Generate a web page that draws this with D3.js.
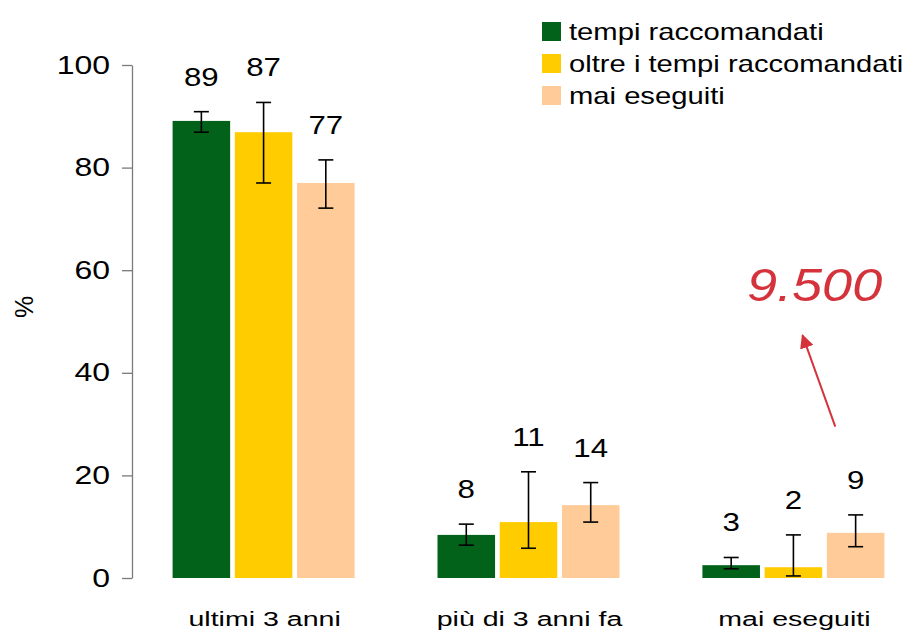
<!DOCTYPE html>
<html>
<head>
<meta charset="utf-8">
<script src="https://cdn.jsdelivr.net/npm/d3@7"></script>
<style>
  body { margin: 0; background: #fff; }
  text { font-family: "Liberation Sans", Arial, sans-serif; }
</style>
</head>
<body>
<div id="chart"></div>
<script>
// categories and series
const groups = ["ultimi 3 anni", "più di 3 anni fa", "mai eseguiti"];
const seriesNames = ["tempi raccomandati", "oltre i tempi raccomandati", "mai eseguiti"];
const seriesColors = ["#03621a", "#ffcc00", "#ffcc99"];

// percentages per group (one array per series)
const tempiRaccomandati = [89.1, 8.4, 2.5];
const oltreTempi = [86.9, 10.9, 2.1];
const maiEseguiti = [77.0, 14.2, 8.8];

// confidence intervals [low, high]
const ciTempi = [[86.9, 90.9], [6.4, 10.5], [1.8, 4.0]];
const ciOltre = [[77.0, 92.7], [5.8, 20.7], [0.4, 8.4]];
const ciMai = [[72.1, 81.5], [10.9, 18.6], [6.1, 12.3]];

const yTicks = [0, 20, 40, 60, 80, 100];
const annotationText = "9.500";

document.addEventListener('DOMContentLoaded', function() {
  const width = 906, height = 638;

  const svg = d3.select("#chart").append("svg")
      .attr("width", width)
      .attr("height", height);

  const allValues = [tempiRaccomandati, oltreTempi, maiEseguiti];
  const allCI = [ciTempi, ciOltre, ciMai];

  const data = groups.map((g, gi) => ({
    group: g,
    bars: seriesNames.map((s, si) => ({
      key: s,
      color: seriesColors[si],
      value: allValues[si][gi],
      lo: allCI[si][gi][0],
      hi: allCI[si][gi][1]
    }))
  }));

  // scales
  const y = d3.scaleLinear().domain([0, 100]).range([578, 65]);
  const x0 = d3.scaleBand().domain(groups).range([131, 926])
      .paddingInner(0.313).paddingOuter(0.157);
  const x1 = d3.scaleBand().domain(seriesNames).range([0, x0.bandwidth()])
      .paddingInner(0.075);

  // y axis
  const yAxis = svg.append("g")
      .attr("transform", "translate(132,0)")
      .call(d3.axisLeft(y).tickValues(yTicks).tickSize(10).tickSizeOuter(0));
  yAxis.select(".domain").attr("stroke", "#7a7a7a").attr("stroke-width", 1.3);
  yAxis.selectAll(".tick line").attr("stroke", "#7a7a7a").attr("stroke-width", 1.3);
  yAxis.selectAll(".tick text")
      .attr("x", null)
      .attr("transform", "translate(-22,0) scale(1.28,1)")
      .attr("font-size", 25)
      .attr("font-family", "Liberation Sans, Arial, sans-serif")
      .attr("fill", "#000");

  // y title
  svg.append("text")
      .attr("transform", "translate(33,307) rotate(-90)")
      .attr("text-anchor", "middle")
      .attr("font-size", 25)
      .text("%");

  // bars
  const groupG = svg.selectAll(".grp")
    .data(data)
    .enter().append("g")
      .attr("class", "grp")
      .attr("transform", d => `translate(${x0(d.group)},0)`);

  const barG = groupG.selectAll(".bar")
    .data(d => d.bars)
    .enter().append("g")
      .attr("class", "bar");

  barG.append("rect")
      .attr("x", d => x1(d.key))
      .attr("y", d => y(d.value))
      .attr("width", x1.bandwidth())
      .attr("height", d => y(0) - y(d.value))
      .attr("fill", d => d.color);

  // error bars
  const cx = d => x1(d.key) + x1.bandwidth() / 2;
  const capW = 7.5;
  barG.append("line")
      .attr("x1", cx).attr("x2", cx)
      .attr("y1", d => y(d.lo)).attr("y2", d => y(d.hi))
      .attr("stroke", "#000").attr("stroke-width", 1.6);
  barG.append("line")
      .attr("x1", d => cx(d) - capW).attr("x2", d => cx(d) + capW)
      .attr("y1", d => y(d.hi)).attr("y2", d => y(d.hi))
      .attr("stroke", "#000").attr("stroke-width", 1.6);
  barG.append("line")
      .attr("x1", d => cx(d) - capW).attr("x2", d => cx(d) + capW)
      .attr("y1", d => y(d.lo)).attr("y2", d => y(d.lo))
      .attr("stroke", "#000").attr("stroke-width", 1.6);

  // value labels
  barG.append("text")
      .attr("transform", d => `translate(${cx(d)},${y(d.hi) - 26}) scale(1.25,1)`)
      .attr("text-anchor", "middle")
      .attr("font-size", 25)
      .text(d => Math.round(d.value));

  // x labels
  svg.selectAll(".xlab")
    .data(groups)
    .enter().append("text")
      .attr("class", "xlab")
      .attr("transform", d => `translate(${x0(d) + x0.bandwidth() / 2 + 1},626) scale(1.36,1)`)
      .attr("text-anchor", "middle")
      .attr("font-size", 21)
      .text(d => d);

  // legend
  const legend = svg.selectAll(".legend")
    .data(seriesNames)
    .enter().append("g")
      .attr("class", "legend")
      .attr("transform", (d, i) => `translate(542,${22 + i * 32})`);

  legend.append("rect")
      .attr("width", 19)
      .attr("height", 19)
      .attr("fill", (d, i) => seriesColors[i]);

  legend.append("text")
      .attr("transform", "translate(27,18) scale(1.27,1)")
      .attr("font-size", 23)
      .text(d => d);

  // annotation with arrow
  const red = "#d5333c";
  const g3 = x0(groups[2]);
  const tail = [g3 + x0.bandwidth() * 0.73, y(29.5)];
  const tip = [g3 + x0.bandwidth() * 0.55, y(47.3)];

  svg.append("defs").append("marker")
      .attr("id", "arrowhead")
      .attr("viewBox", "0 0 10 10")
      .attr("refX", 9).attr("refY", 5)
      .attr("markerWidth", 7).attr("markerHeight", 7)
      .attr("markerUnits", "strokeWidth")
      .attr("orient", "auto")
    .append("path")
      .attr("d", "M0,0 L10,5 L0,10 z")
      .attr("fill", red);

  svg.append("line")
      .attr("x1", tail[0]).attr("y1", tail[1])
      .attr("x2", tip[0]).attr("y2", tip[1])
      .attr("stroke", red)
      .attr("stroke-width", 2)
      .attr("marker-end", "url(#arrowhead)");

  svg.append("text")
      .attr("transform", `translate(${g3 + x0.bandwidth() * 0.245},${y(54)}) scale(1.15,1)`)
      .attr("font-family", "DejaVu Sans, sans-serif")
      .attr("font-style", "italic")
      .attr("font-size", 47)
      .style("fill", red)
      .text(annotationText);
});
</script>
</body>
</html>
